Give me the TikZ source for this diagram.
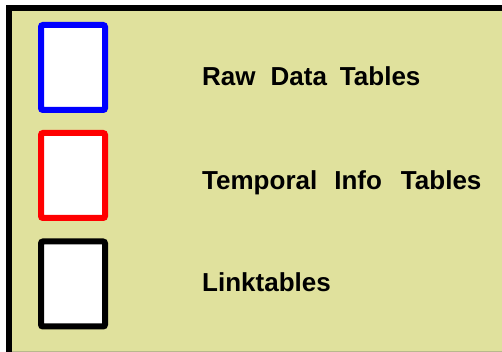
\documentclass[tikz,border=0pt]{standalone}
\usepackage{fontspec}
\setmainfont{Liberation Sans}
\definecolor{khaki}{RGB}{224,225,157}
\definecolor{edgegray}{RGB}{185,185,140}
\begin{document}
\begin{tikzpicture}[x=1pt,y=1pt,
  legbox/.style={draw, line width=6pt, fill=white, rounded corners=2pt, minimum width=64pt, minimum height=85pt, inner sep=0pt},
  legtext/.style={anchor=base west, inner sep=0pt, font=\fontsize{26}{30}\selectfont\bfseries}]
\useasboundingbox (0,0) rectangle (502,352);
\fill[white] (0,0) rectangle (502,352);
\fill[khaki] (6,0) rectangle (502,346);
\draw[edgegray, line width=1pt] (6,0.5) -- (502,0.5);
\draw[black, line width=6pt] (9,0) -- (9,343.5) -- (502,343.5);
\node[legbox, draw=blue] (raw) at (73,284.5) {};
\node[legbox, draw=red] (temp) at (73,176.5) {};
\node[legbox, draw=black] (link) at (73,68) {};
\node[legtext] (rawt) at (202,266) {Raw\hspace{15pt}Data\hspace{13pt}Tables};
\node[legtext] (tempt) at (202,162) {Temporal\hspace{17pt}Info\hspace{19pt}Tables};
\node[legtext] (linkt) at (202,60) {Linktables};
\end{tikzpicture}
\end{document}
